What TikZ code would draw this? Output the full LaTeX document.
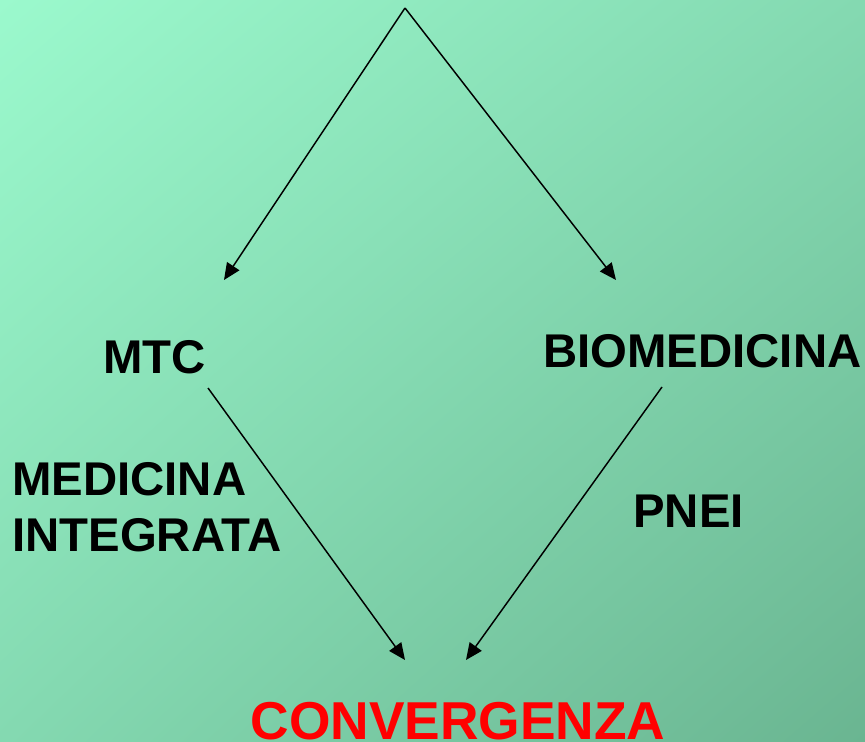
\documentclass[tikz,border=0pt]{standalone}
\usepackage{fontspec}
\setmainfont{Liberation Sans}
\usetikzlibrary{arrows.meta,shadings}
\definecolor{bgA}{HTML}{9BF9CD}
\definecolor{bgB}{HTML}{84D9B1}
\definecolor{bgC}{HTML}{6AB591}
\begin{document}
\begin{tikzpicture}[x=0.75pt,y=-0.75pt,
  lbl/.style={font=\fontsize{35.5}{40}\selectfont\bfseries, text=black, inner sep=0pt, anchor=base west},
  conv/.style={font=\fontsize{40}{46}\selectfont\bfseries, text=red, inner sep=0pt, anchor=base},
  arr/.style={draw=black, line width=1.1pt, -{Triangle[length=12.5pt,width=11pt]}}]
\useasboundingbox (0,0) rectangle (865,742);
\shade[upper left=bgA, lower right=bgC, upper right=bgB, lower left=bgB]
  (0,0) rectangle (865,742);
\coordinate (apex) at (405,8);
\coordinate (la) at (224,280);
\coordinate (ra) at (616,280);
\node[lbl] (mtc) at (103,373) {MTC};
\node[lbl] (bio) at (543,367) {BIOMEDICINA};
\node[lbl] (med) at (12,495) {MEDICINA};
\node[lbl] (int) at (12,551) {INTEGRATA};
\node[lbl] (pnei) at (633,527) {PNEI};
\node[conv] (conv) at (458,739) {CONVERGENZA};
\coordinate (ms) at (208,388);
\coordinate (me) at (405,660);
\coordinate (bs) at (662,387);
\coordinate (be) at (466,660);
\draw[arr] (apex) -- (la);
\draw[arr] (apex) -- (ra);
\draw[arr] (ms) -- (me);
\draw[arr] (bs) -- (be);
\end{tikzpicture}
\end{document}
